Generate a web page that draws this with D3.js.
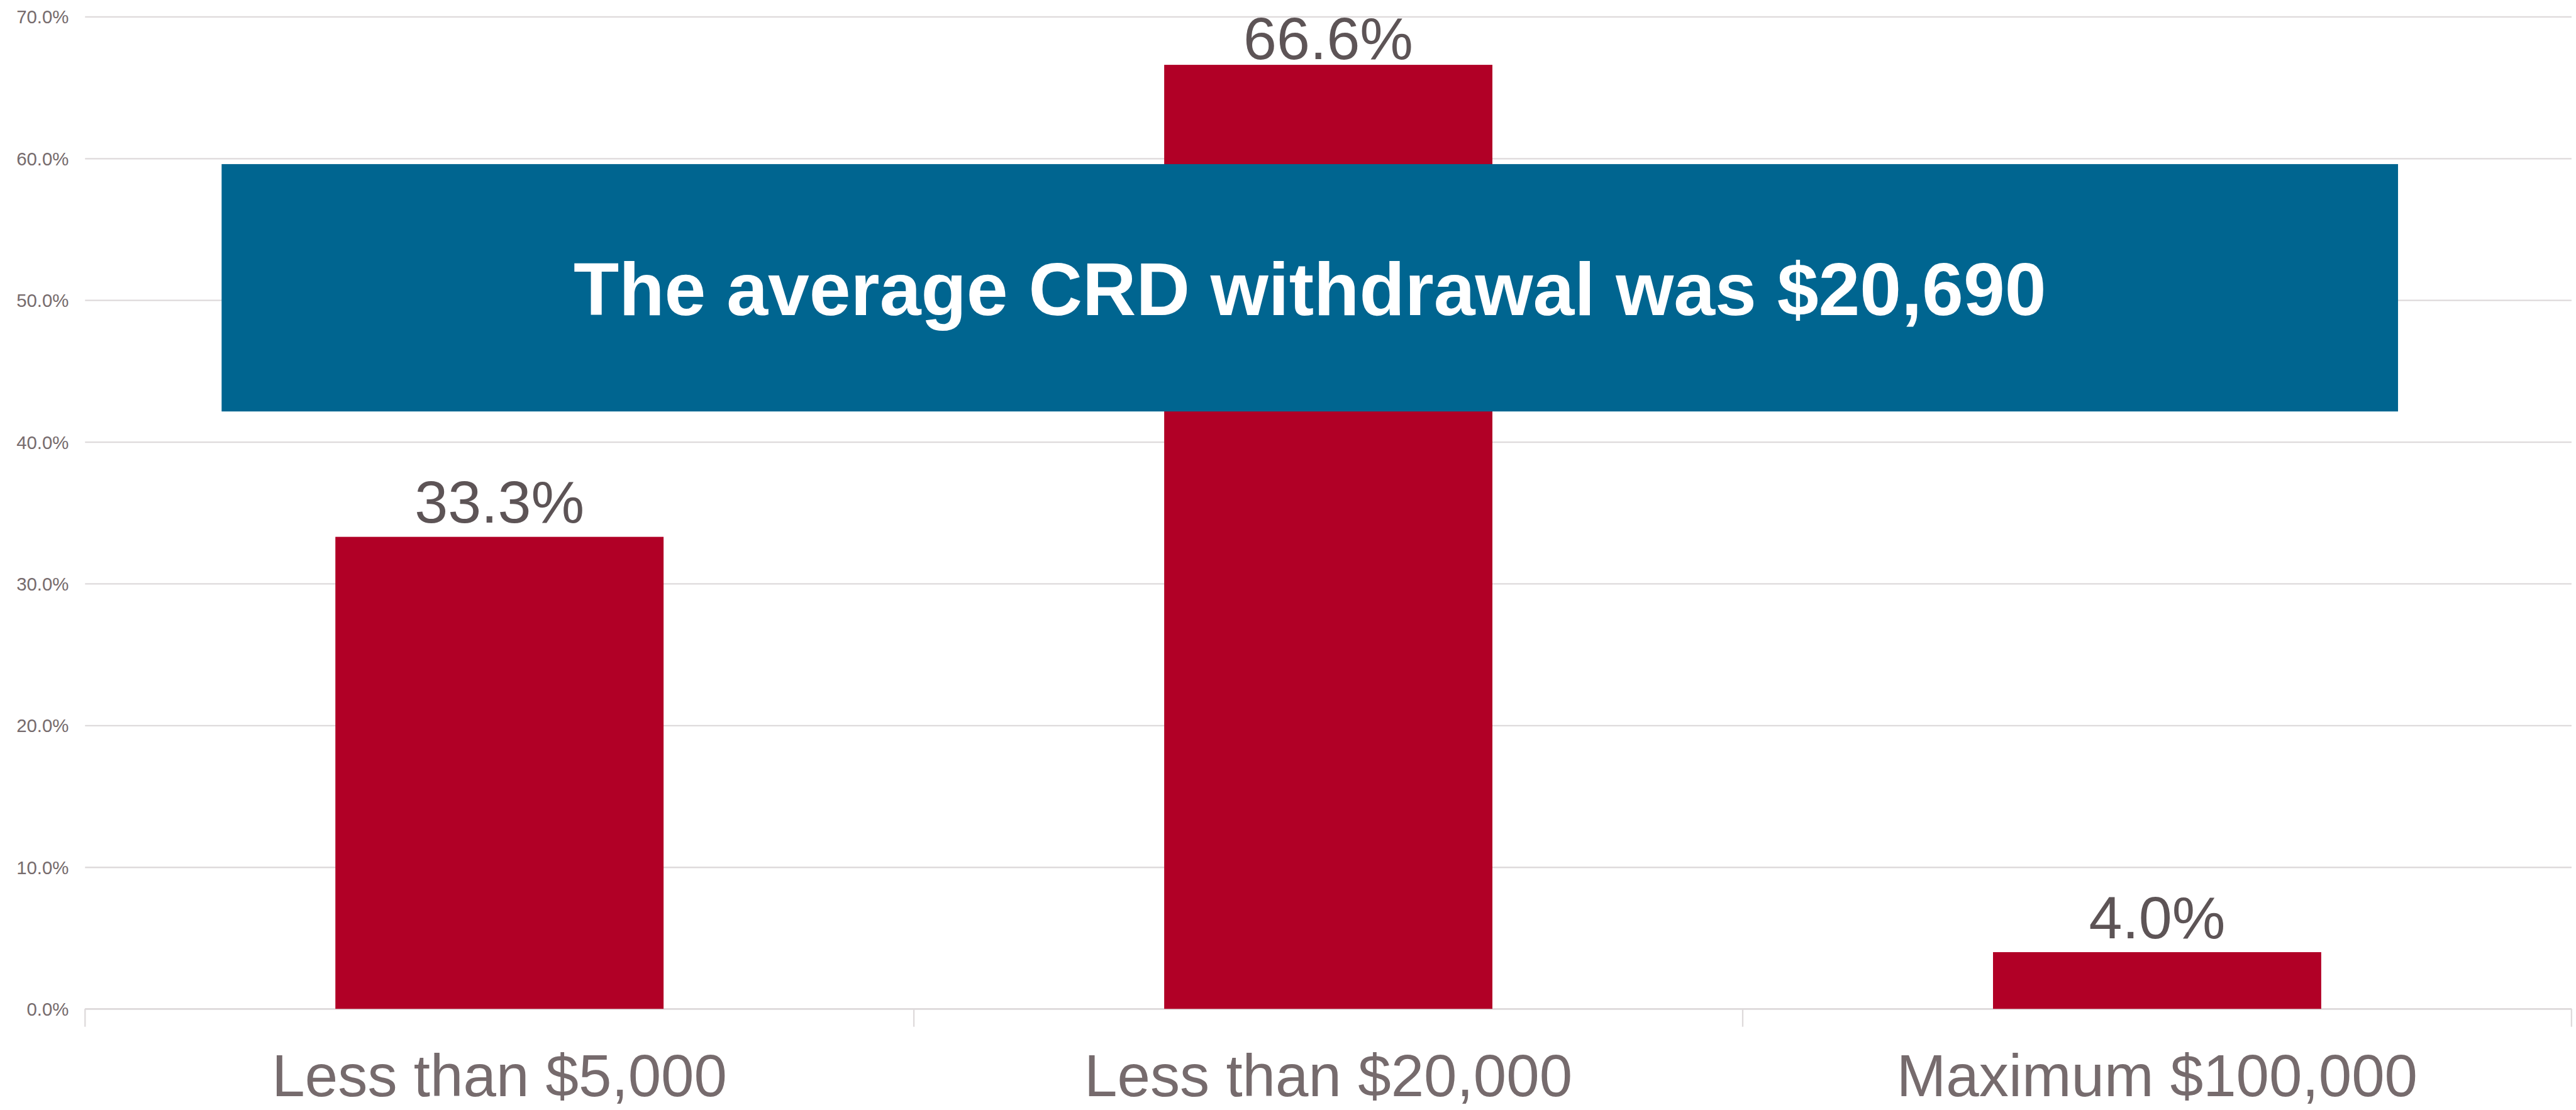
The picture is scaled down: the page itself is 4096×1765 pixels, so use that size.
<!DOCTYPE html>
<html>
<head>
<meta charset="utf-8">
<script src="https://cdn.jsdelivr.net/npm/d3@7"></script>
<style>
  html, body { margin: 0; padding: 0; background: #ffffff; }
  svg { display: block; }
</style>
</head>
<body>
<svg id="chart"></svg>
<script>
// Withdrawal size buckets and share of CRD withdrawals
const categories = ["Less than $5,000", "Less than $20,000", "Maximum $100,000"];
const shares = [0.333, 0.666, 0.040];
const yTicks = [0, 0.1, 0.2, 0.3, 0.4, 0.5, 0.6, 0.7];
const bannerText = "The average CRD withdrawal was $20,690";

// Drawing space (design units), rendered into the window via viewBox
const W = 4603, H = 1983;
const svg = d3.select("#chart")
  .attr("width", 4096)
  .attr("height", 1765)
  .attr("viewBox", `0 0 ${W} ${H}`);

const font = "'Liberation Sans', Arial, Helvetica, sans-serif";
const gridColor = "#dedadb";
const axisTextColor = "#766b6d";
const valueTextColor = "#5d5456";
const barColor = "#b10026";
const bannerColor = "#006590";

const plot = { left: 152, right: 4595, top: 29.5, bottom: 1802.5 };

const x = d3.scaleBand()
  .domain(categories)
  .range([plot.left, plot.right])
  .paddingInner(0.604)
  .paddingOuter(0.302);

const y = d3.scaleLinear()
  .domain([0, 0.7])
  .range([plot.bottom, plot.top]);

const pct = d3.format(".1%");

// Horizontal gridlines with percentage labels
const yAxis = d3.axisLeft(y)
  .tickValues(yTicks)
  .tickFormat(pct)
  .tickSize(-(plot.right - plot.left))
  .tickPadding(29);

const gy = svg.append("g")
  .attr("transform", `translate(${plot.left},0)`)
  .call(yAxis);
gy.select(".domain").remove();
gy.selectAll(".tick line")
  .attr("stroke", gridColor)
  .attr("stroke-width", 2.6);
gy.selectAll(".tick text")
  .attr("fill", axisTextColor)
  .attr("font-family", font)
  .attr("font-size", 33)
  .attr("dy", "0.36em");

// Category axis: baseline plus boundary ticks between categories
const step = x.step();
const boundaries = d3.range(categories.length + 1).map(i => plot.left + i * step);
const gx = svg.append("g");
gx.append("line")
  .attr("x1", plot.left).attr("x2", plot.right)
  .attr("y1", y(0)).attr("y2", y(0))
  .attr("stroke", gridColor).attr("stroke-width", 2.6);
gx.selectAll("line.boundary")
  .data(boundaries)
  .join("line")
  .attr("class", "boundary")
  .attr("x1", d => d).attr("x2", d => d)
  .attr("y1", y(0)).attr("y2", y(0) + 32)
  .attr("stroke", gridColor).attr("stroke-width", 2.6);
gx.selectAll("text.cat")
  .data(categories)
  .join("text")
  .attr("class", "cat")
  .attr("x", d => x(d) + x.bandwidth() / 2)
  .attr("y", 1958)
  .attr("text-anchor", "middle")
  .attr("fill", axisTextColor)
  .attr("font-family", font)
  .attr("font-size", 106)
  .text(d => d);

// Bars
const data = categories.map((c, i) => ({ category: c, value: shares[i] }));
svg.append("g")
  .selectAll("rect")
  .data(data)
  .join("rect")
  .attr("x", d => x(d.category))
  .attr("width", x.bandwidth())
  .attr("y", d => y(d.value))
  .attr("height", d => y(0) - y(d.value))
  .attr("fill", barColor);

// Value labels above bars, kept inside the top of the chart
const labelSize = 107;
svg.append("g")
  .selectAll("text")
  .data(data)
  .join("text")
  .attr("x", d => x(d.category) + x.bandwidth() / 2)
  .attr("y", d => Math.max(y(d.value) - 25, 105))
  .attr("text-anchor", "middle")
  .attr("fill", valueTextColor)
  .attr("font-family", font)
  .attr("font-size", labelSize)
  .text(d => pct(d.value));

// Call-out banner across the chart
const banner = { x0: 396, x1: 4285, y0: 293, y1: 735 };
const gb = svg.append("g");
gb.append("rect")
  .attr("x", banner.x0)
  .attr("y", banner.y0)
  .attr("width", banner.x1 - banner.x0)
  .attr("height", banner.y1 - banner.y0)
  .attr("fill", bannerColor);
gb.append("text")
  .attr("x", (banner.x0 + banner.x1) / 2)
  .attr("y", 563)
  .attr("text-anchor", "middle")
  .attr("fill", "#ffffff")
  .attr("font-family", font)
  .attr("font-weight", "bold")
  .attr("font-size", 133)
  .text(bannerText);
</script>
</body>
</html>
